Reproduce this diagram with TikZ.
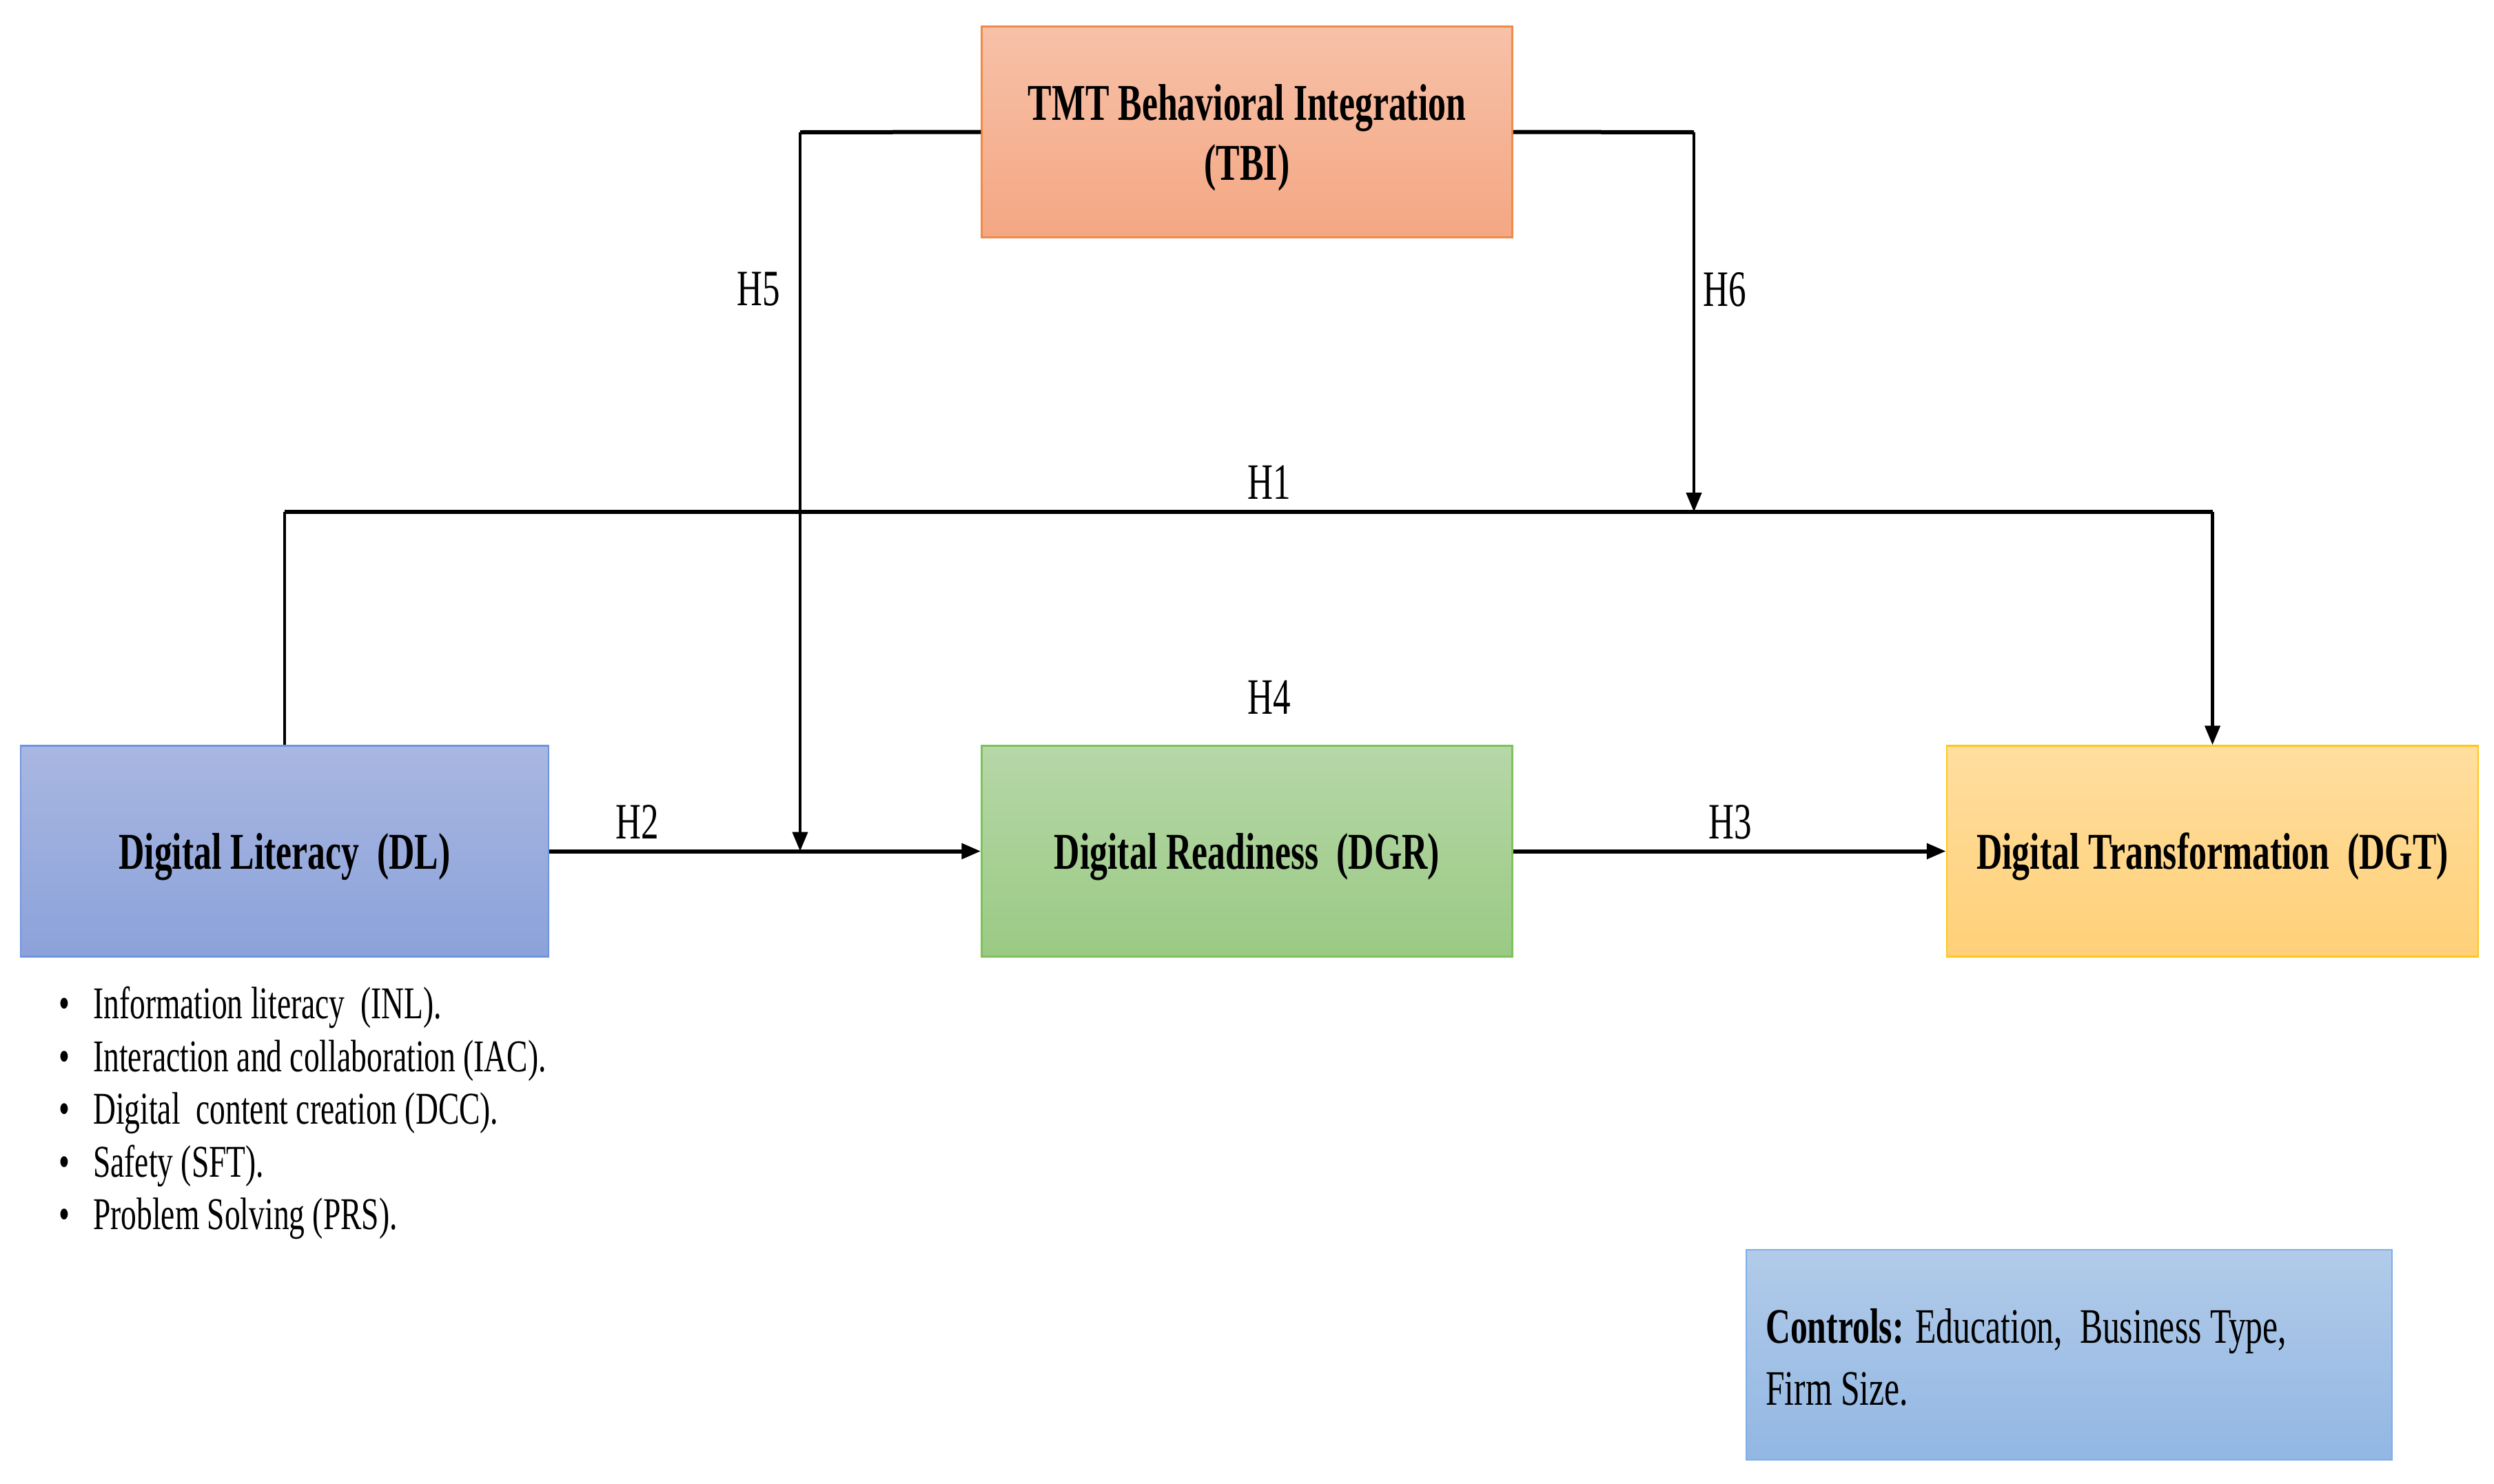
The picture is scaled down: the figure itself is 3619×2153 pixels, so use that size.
\documentclass[tikz,border=0pt]{standalone}
\usepackage{fontspec}
\setmainfont{Liberation Serif}[FakeStretch=0.69]
\usetikzlibrary{arrows.meta}
\definecolor{tbiTop}{HTML}{F7C1A8}
\definecolor{tbiBot}{HTML}{F4A783}
\definecolor{tbiLine}{HTML}{F08A48}
\definecolor{dlTop}{HTML}{A9B7E1}
\definecolor{dlBot}{HTML}{8BA2DA}
\definecolor{dlLine}{HTML}{6F94E0}
\definecolor{dgrTop}{HTML}{B6D7A8}
\definecolor{dgrBot}{HTML}{9BCA84}
\definecolor{dgrLine}{HTML}{7DC25A}
\definecolor{dgtTop}{HTML}{FFDE9F}
\definecolor{dgtBot}{HTML}{FFD078}
\definecolor{dgtLine}{HTML}{FFC71C}
\definecolor{ctlTop}{HTML}{B2CBE9}
\definecolor{ctlBot}{HTML}{92B7E3}
\definecolor{ctlLine}{HTML}{7FAEE6}
\begin{document}
\begin{tikzpicture}[x=1pt,y=-1pt,
  box/.style={rectangle, draw, line width=2.5pt, inner sep=0pt,
    minimum width=770pt, minimum height=306pt},
  boxtext/.style={inner sep=0pt, align=center,
    font=\fontsize{75}{87}\selectfont\bfseries},
  hl/.style={line width=6pt},
  vl/.style={line width=4.5pt},
  tip/.style={-{Triangle[length=28pt,width=22pt]}},
  hlab/.style={inner sep=0pt, font=\fontsize{74}{86}\selectfont},
  blt/.style={inner sep=0pt, anchor=base west, font=\fontsize{66}{77}\selectfont},
  bdot/.style={inner sep=0pt, anchor=base, font=\fontsize{66}{77}\selectfont},
  ctl/.style={inner sep=0pt, anchor=base west, font=\fontsize{72}{90}\selectfont}
]
\fill[white] (0,0) rectangle (3619,2153);
\useasboundingbox (0,0) rectangle (3619,2153);

% boxes
\node[box, top color=tbiTop, bottom color=tbiBot, draw=tbiLine] (TBI) at (1809.5,191.5) {};
\node[box, top color=dlTop, bottom color=dlBot, draw=dlLine, minimum width=766pt] (DL) at (413,1235.5) {};
\node[box, top color=dgrTop, bottom color=dgrBot, draw=dgrLine] (DGR) at (1809.5,1235.5) {};
\node[box, top color=dgtTop, bottom color=dgtBot, draw=dgtLine, minimum width=771pt] (DGT) at (3210.5,1235.5) {};
\node[box, top color=ctlTop, bottom color=ctlBot, draw=ctlLine, minimum width=937pt, minimum height=305pt] (CTL) at (3002.5,1966.5) {};

% box texts
\node[boxtext] (TBIt) at ([yshift=-8pt]TBI.center) {TMT Behavioral Integration\\(TBI)};
\node[boxtext] (DLt) at ([yshift=-8pt]DL.center) {Digital Literacy\ \ (DL)};
\node[boxtext] (DGRt) at ([yshift=-8pt]DGR.center) {Digital Readiness\ \ (DGR)};
\node[boxtext] (DGTt) at ([yshift=-8pt]DGT.center) {Digital Transformation\ \ (DGT)};

% coordinates of connector bends
\coordinate (h1y) at (0,743);
\coordinate (h5c) at (1161,192);
\coordinate (h6c) at (2458,192);

% H1
\draw[vl] (DL.north) -- (DL.north |- h1y);
\draw[hl] (DL.north |- h1y) -- (DGT.north |- h1y);
\draw[vl,tip] (DGT.north |- h1y) -- (DGT.north);
% H2, H3
\draw[hl,tip] (DL.east) -- (DGR.west);
\draw[hl,tip] (DGR.east) -- (DGT.west);
% H5
\draw[hl] (TBI.west) -- (h5c);
\draw[vl,tip] (h5c) -- (h5c |- DL.east);
% H6
\draw[hl] (TBI.east) -- (h6c);
\draw[vl,tip] (h6c) -- (h6c |- h1y);

% labels
\node[hlab] (lH1) at (1842,700) {H1};
\node[hlab] (lH2) at (925,1193) {H2};
\node[hlab] (lH3) at (2511,1193) {H3};
\node[hlab] (lH4) at (1842,1012) {H4};
\node[hlab] (lH5) at (1101,420) {H5};
\node[hlab] (lH6) at (2503,420) {H6};

% bullet list
\node[bdot] (d1) at (93,1478) {\textbullet};
\node[bdot] (d2) at (93,1555) {\textbullet};
\node[bdot] (d3) at (93,1631) {\textbullet};
\node[bdot] (d4) at (93,1708) {\textbullet};
\node[bdot] (d5) at (93,1784) {\textbullet};
\node[blt] (t1) at (135,1478) {Information literacy\ \ (INL).};
\node[blt] (t2) at (135,1555) {Interaction and collaboration (IAC).};
\node[blt] (t3) at (135,1631) {Digital\ \ content creation (DCC).};
\node[blt] (t4) at (135,1708) {Safety (SFT).};
\node[blt] (t5) at (135,1784) {Problem Solving (PRS).};

% controls text
\node[ctl] (c1) at (2562,1949) {\textbf{Controls:} Education,\ \ Business Type,};
\node[ctl] (c2) at (2562,2039) {Firm Size.};
\end{tikzpicture}
\end{document}
